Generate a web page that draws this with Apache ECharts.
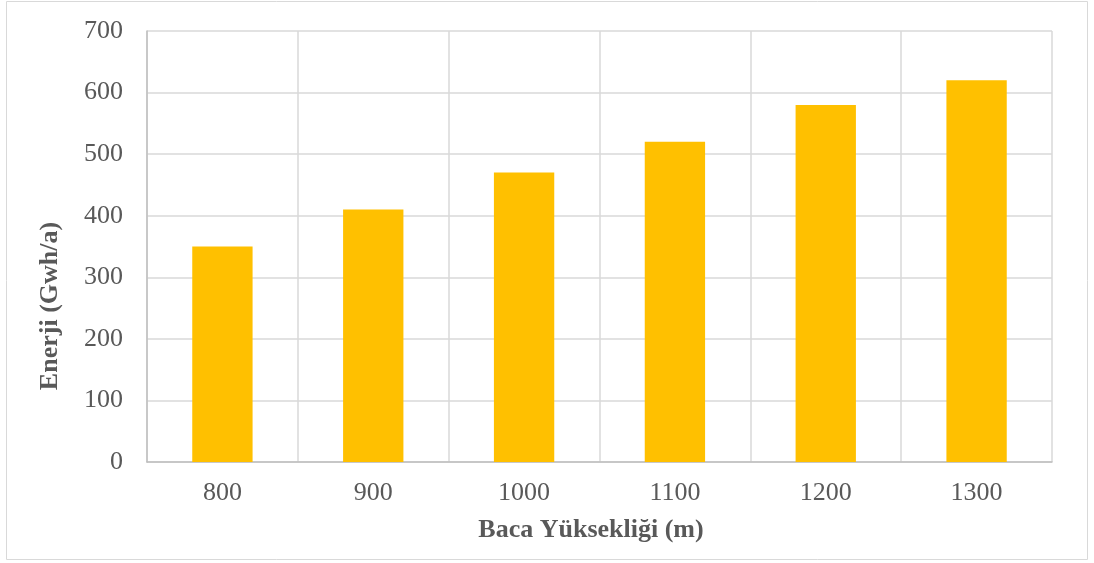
<!DOCTYPE html>
<html>
<head>
<meta charset="utf-8">
<script src="https://cdn.jsdelivr.net/npm/echarts@6/dist/echarts.min.js"></script>
<style>
  html, body { margin: 0; padding: 0; background: #fff; }
  #chart { width: 1094px; height: 563px; }
</style>
</head>
<body>
<div id="chart"></div>
<script>
var heights = ['800', '900', '1000', '1100', '1200', '1300'];
var energy = [350, 410, 470, 520, 580, 620];
var xTitle = 'Baca Yüksekliği (m)';
var yTitle = 'Enerji (Gwh/a)';

var font = '"Liberation Serif", "Times New Roman", serif';
var myChart = echarts.init(document.getElementById('chart'));
myChart.setOption({
    animation: false,
    graphic: [{
        type: 'rect',
        shape: { x: 6.5, y: 1.5, width: 1081, height: 558 },
        style: { fill: 'none', stroke: '#d9d9d9', lineWidth: 1 },
        silent: true
    }, {
        // axis titles sit off-centre in the original, so place them by hand
        type: 'text',
        x: 591, y: 530,
        style: {
            text: xTitle, font: 'bold 26px ' + font, fill: '#595959',
            align: 'center', verticalAlign: 'middle'
        }
    }, {
        type: 'text',
        x: 50, y: 306,
        rotation: Math.PI / 2,
        style: {
            text: yTitle, font: 'bold 26px ' + font, fill: '#595959',
            align: 'center', verticalAlign: 'middle'
        }
    }],
    grid: { left: 147, right: 42, top: 31, bottom: 101 },
    xAxis: {
        type: 'category',
        data: heights,
        axisLine: { lineStyle: { color: '#bfbfbf', width: 1.5 } },
        axisTick: { show: false },
        axisLabel: { fontFamily: font, fontSize: 26, color: '#595959', margin: 18 },
        splitLine: { show: true, interval: 0, lineStyle: { color: '#d9d9d9', width: 1.5 } }
    },
    yAxis: {
        type: 'value',
        min: 0,
        max: 700,
        interval: 100,
        axisLine: { show: true, lineStyle: { color: '#bfbfbf', width: 1.5 } },
        axisTick: { show: false },
        axisLabel: { fontFamily: font, fontSize: 26, color: '#595959', margin: 24 },
        splitLine: { show: true, lineStyle: { color: '#d9d9d9', width: 1.5 } }
    },
    series: [{
        type: 'bar',
        data: energy,
        barWidth: '40%',
        itemStyle: { color: '#ffc000' }
    }]
});
</script>
</body>
</html>
